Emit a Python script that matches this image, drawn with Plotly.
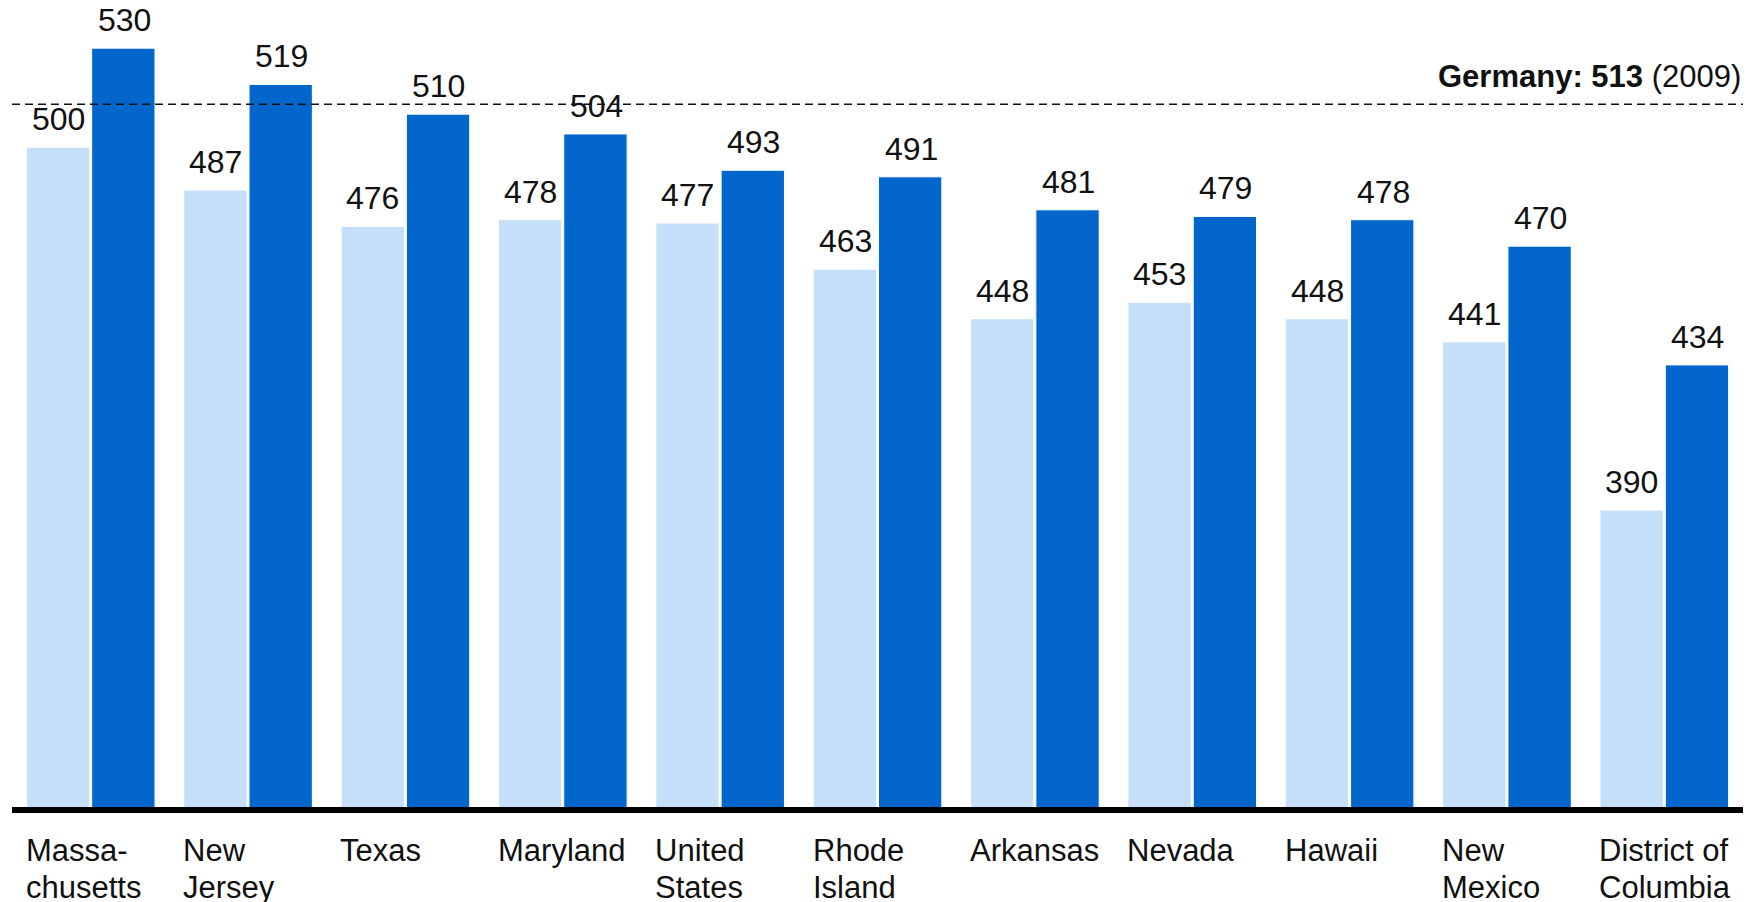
import plotly.graph_objects as go

states = ["Massachusetts", "New Jersey", "Texas", "Maryland", "United States",
          "Rhode Island", "Arkansas", "Nevada", "Hawaii", "New Mexico",
          "District of Columbia"]
label_lines = [["Massa-", "chusetts"], ["New", "Jersey"], ["Texas"], ["Maryland"],
               ["United", "States"], ["Rhode", "Island"], ["Arkansas"], ["Nevada"],
               ["Hawaii"], ["New", "Mexico"], ["District of", "Columbia"]]
earlier = [500, 487, 476, 478, 477, 463, 448, 453, 448, 441, 390]
later = [530, 519, 510, 504, 493, 491, 481, 479, 478, 470, 434]
germany_value = 513
germany_year = "2009"

FONT = "Liberation Sans, Arial, Helvetica, sans-serif"
LIGHT = "#c6dff8"
DARK = "#0266cc"
TXT = "#111111"

fig = go.Figure()
fig.add_trace(go.Bar(x=states, y=earlier, name="Earlier", marker_color=LIGHT,
                     marker_line=dict(color="white", width=1)))
fig.add_trace(go.Bar(x=states, y=later, name="Later", marker_color=DARK,
                     marker_line=dict(color="white", width=1)))

# value labels above bars
for series, dx in ((earlier, -32.5), (later, 33.5)):
    for s, v in zip(states, series):
        fig.add_annotation(x=s, y=v, xref="x", yref="y", xshift=dx,
                           yanchor="bottom", yshift=8, showarrow=False,
                           text=str(v), font=dict(size=32, color=TXT, family=FONT))

# Germany reference line
fig.add_shape(type="line", xref="paper", x0=0, x1=1, yref="y",
              y0=germany_value, y1=germany_value,
              line=dict(color=TXT, width=1.5, dash="8px,5px"))
fig.add_annotation(xref="paper", x=1, xanchor="right", yref="y", y=germany_value,
                   yanchor="bottom", yshift=8, showarrow=False,
                   text=f"<b>Germany: {germany_value}</b> ({germany_year})",
                   font=dict(size=31, color=TXT, family=FONT))

# Category labels, left-aligned under each group
for s, lines in zip(states, label_lines):
    for i, ln in enumerate(lines):
        fig.add_annotation(x=s, xref="x", xanchor="left", xshift=-67,
                           y=0, yref="paper", yanchor="top", yshift=-24 - 37 * i,
                           showarrow=False, text=ln, align="left",
                           font=dict(size=31, color=TXT, family=FONT))

fig.update_layout(
    width=1753, height=902,
    margin=dict(l=12, r=10, t=0, b=95),
    paper_bgcolor="white", plot_bgcolor="white",
    barmode="group", bargap=0.17, bargroupgap=0.03,
    showlegend=False,
    font=dict(family=FONT, color=TXT),
)
fig.update_xaxes(showticklabels=False, showgrid=False, zeroline=False,
                 showline=True, linecolor="black", linewidth=6, ticks="")
fig.update_yaxes(range=[300, 544.6], visible=False, showgrid=False)

fig.write_html("out.html")
